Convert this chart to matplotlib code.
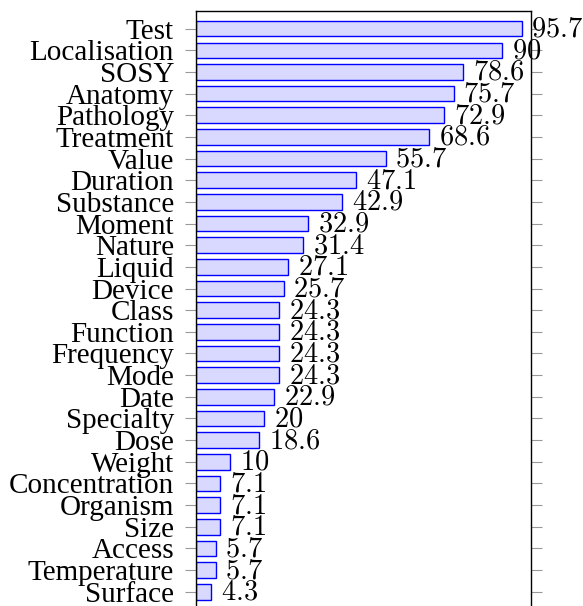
import matplotlib.pyplot as plt

plt.rcParams['mathtext.fontset'] = 'cm'

categories = ['Test', 'Localisation', 'SOSY', 'Anatomy', 'Pathology', 'Treatment',
              'Value', 'Duration', 'Substance', 'Moment', 'Nature', 'Liquid',
              'Device', 'Class', 'Function', 'Frequency', 'Mode', 'Date',
              'Specialty', 'Dose', 'Weight', 'Concentration', 'Organism', 'Size',
              'Access', 'Temperature', 'Surface']
values = [95.7, 90, 78.6, 75.7, 72.9, 68.6, 55.7, 47.1, 42.9, 32.9, 31.4, 27.1,
          25.7, 24.3, 24.3, 24.3, 24.3, 22.9, 20, 18.6, 10, 7.1, 7.1, 7.1,
          5.7, 5.7, 4.3]
value_labels = ['95.7', '90', '78.6', '75.7', '72.9', '68.6', '55.7', '47.1', '42.9',
                '32.9', '31.4', '27.1', '25.7', '24.3', '24.3', '24.3', '24.3', '22.9',
                '20', '18.6', '10', '7.1', '7.1', '7.1', '5.7', '5.7', '4.3']

fig = plt.figure(figsize=(5.83, 6.06), dpi=100)
ax = fig.add_axes([0.3365, 0.0, 0.575, 0.982])

pos = list(range(len(categories)))
ax.barh(pos, values, height=0.72, color='#d9d9ff', edgecolor='#0000ff', linewidth=1.0)

# value labels at bar ends
for p, v, s in zip(pos, values, value_labels):
    ax.annotate('$' + s + '$', xy=(v, p), xytext=(7, 0), textcoords='offset points',
                va='center', ha='left', fontsize=20.5, annotation_clip=False)

ax.set_xlim(0, 98.6)
ax.set_ylim(26.66, -0.82)
ax.set_yticks(pos)
ax.set_yticklabels(categories, fontfamily='Liberation Serif', fontsize=21)
ax.tick_params(axis='y', which='both', direction='out', length=8, width=0.8,
               color='#999999', pad=8, right=True, left=True)
ax.tick_params(axis='x', bottom=False, labelbottom=False)
ax.spines['bottom'].set_visible(False)
for s in ['top', 'left', 'right']:
    ax.spines[s].set_linewidth(1.0)

fig.savefig('out.png', dpi=100)
